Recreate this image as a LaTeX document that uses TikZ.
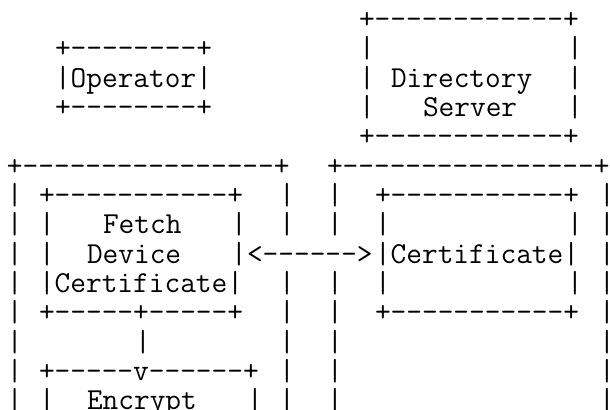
\documentclass[tikz,border=0pt]{standalone}
\tikzset{
  artline/.style={anchor=base west, inner sep=0pt, outer sep=0pt,
    font=\ttfamily\fontsize{22.86}{24}\selectfont},
}
\begin{document}
\begin{tikzpicture}[x=12pt, y=22pt]
  \useasboundingbox (-0.4375,0.97) rectangle (37.6875,-13.007);
  \clip (-0.4375,0.97) rectangle (37.6875,-13.007);
  % directory server
  \node[artline] (dstop) at (22,0) {+------------+};
  \foreach \r in {1,2,3} {
    \node[artline] (dsl\r) at (22,-\r) {|};
    \node[artline] (dsr\r) at (35,-\r) {|};
  }
  \node[artline] (dir) at (24,-2) {Directory};
  \node[artline] (srv) at (26,-3) {Server};
  \node[artline] (dsbot) at (22,-4) {+------------+};
  % operator
  \node[artline] (optop) at (3,-1) {+--------+};
  \node[artline] (op) at (3,-2) {|Operator|};
  \node[artline] (opbot) at (3,-3) {+--------+};
  % outer boxes
  \node[artline] (lefttop) at (0,-5) {+----------------+};
  \node[artline] (righttop) at (20,-5) {+----------------+};
  \foreach \r in {6,...,13} {
    \node[artline] (leftl\r) at (0,-\r) {|};
    \node[artline] (rightr\r) at (37,-\r) {|};
  }
  \foreach \r in {6,7,9,10,11,12,13} {
    \node[artline] (leftr\r) at (17,-\r) {|};
    \node[artline] (rightl\r) at (20,-\r) {|};
  }
  % fetch device certificate
  \node[artline] (fetchtop) at (2,-6) {+-----------+};
  \foreach \r in {7,8} {
    \node[artline] (fetchl\r) at (2,-\r) {|};
    \node[artline] (fetchr\r) at (14,-\r) {|};
  }
  \node[artline] (fetch) at (6,-7) {Fetch};
  \node[artline] (device) at (5,-8) {Device};
  \node[artline] (devcert) at (2,-9) {|Certificate|};
  \node[artline] (fetchbot) at (2,-10) {+-----+-----+};
  % exchange
  \node[artline] (xchg) at (15,-8) {<------>};
  % certificate
  \node[artline] (certtop) at (23,-6) {+-----------+};
  \foreach \r in {7,9} {
    \node[artline] (certl\r) at (23,-\r) {|};
    \node[artline] (certr\r) at (35,-\r) {|};
  }
  \node[artline] (cert) at (23,-8) {|Certificate|};
  \node[artline] (certbot) at (23,-10) {+-----------+};
  % down to encrypt
  \node[artline] (down) at (8,-11) {|};
  \node[artline] (enctop) at (2,-12) {+-----v------+};
  \node[artline] (encl) at (2,-13) {|};
  \node[artline] (enc) at (5,-13) {Encrypt};
  \node[artline] (encr) at (15,-13) {|};
\end{tikzpicture}
\end{document}
